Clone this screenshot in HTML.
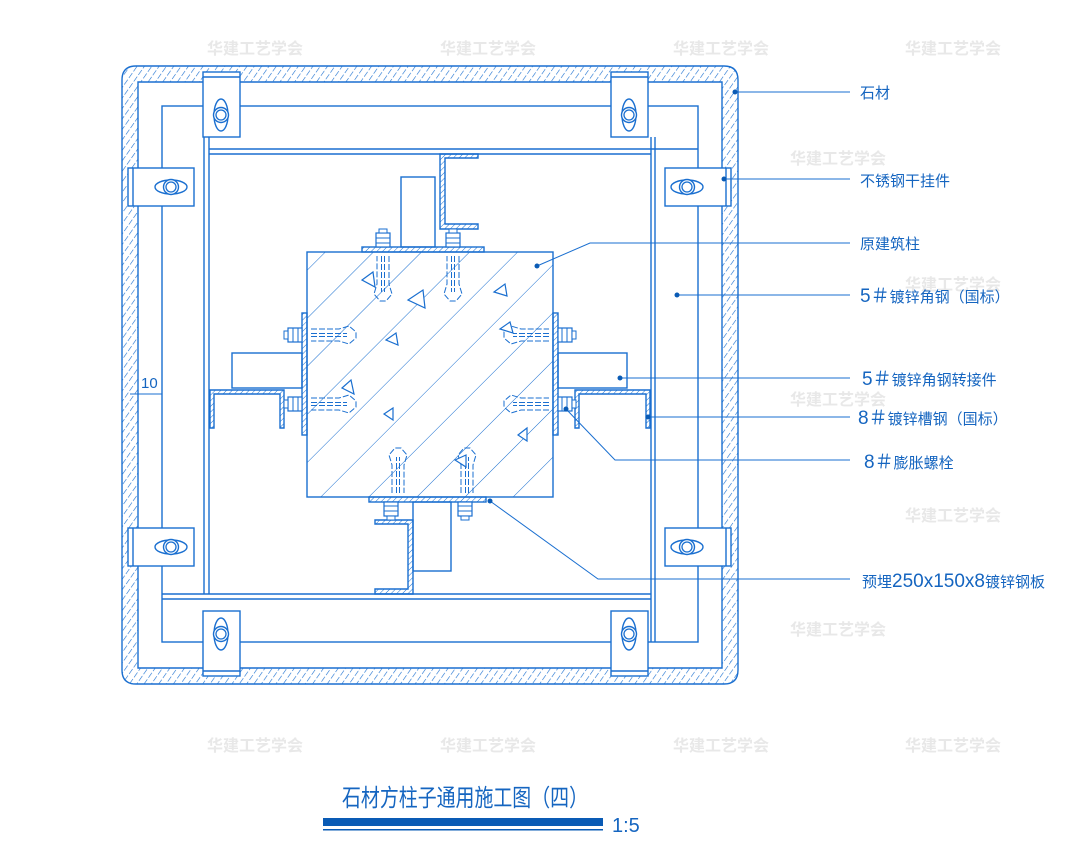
<!DOCTYPE html>
<html><head><meta charset="utf-8"><style>
html,body{margin:0;padding:0;background:#fff;}
svg{display:block;}
.t{font-family:"Liberation Sans","Noto Sans CJK SC",sans-serif;fill:#1565c0;}
.w{font-family:"Noto Sans CJK SC",sans-serif;font-weight:bold;fill:#e8e8e8;font-size:16px;}
</style></head><body>
<svg width="1081" height="866" viewBox="0 0 1081 866" xmlns="http://www.w3.org/2000/svg">
<defs>
<pattern id="st" width="6" height="8" patternUnits="userSpaceOnUse" patternTransform="rotate(35)">
<line x1="0" y1="0" x2="0" y2="8" stroke="#1a6fd0" stroke-width="1.2" stroke-dasharray="6 2"/></pattern>
<pattern id="sl" width="4" height="4" patternUnits="userSpaceOnUse" patternTransform="rotate(45)">
<line x1="0" y1="0" x2="0" y2="4" stroke="#1a6fd0" stroke-width="1"/></pattern>
<pattern id="co" width="34" height="34" patternUnits="userSpaceOnUse" patternTransform="rotate(45)">
<line x1="0" y1="0" x2="0" y2="34" stroke="#1a6fd0" stroke-width="1"/></pattern>
<g id="nutv"><rect x="-7" y="-7" width="14" height="14" fill="#fff" stroke="#1a6fd0" stroke-width="1.2"/><line x1="-7" y1="-2" x2="7" y2="-2" stroke="#1a6fd0"/><line x1="-7" y1="3" x2="7" y2="3" stroke="#1a6fd0"/><rect x="-4" y="-11" width="8" height="4" fill="#fff" stroke="#1a6fd0"/></g>
<g id="wing"><ellipse cx="0" cy="0" rx="16" ry="7" fill="#fff" stroke="#1a6fd0" stroke-width="1.4"/><circle r="7.5" fill="#fff" stroke="#1a6fd0" stroke-width="1.4"/><circle r="5" fill="none" stroke="#1a6fd0" stroke-width="1.3"/></g>
<g id="anch" fill="none" stroke="#1a6fd0" stroke-width="1" stroke-dasharray="6 2"><path d="M0,-6 L28,-6 L38,-9 L45,-3 L45,3 L38,9 L28,6 L0,6"/><path d="M0,-1.5 L36,-1.5 M0,1.5 L36,1.5"/></g>
</defs>

<g class="w">
<text x="207" y="54">华建工艺学会</text><text x="440" y="54">华建工艺学会</text><text x="673" y="54">华建工艺学会</text><text x="905" y="54">华建工艺学会</text>
<text x="790" y="164">华建工艺学会</text>
<text x="905" y="290">华建工艺学会</text>
<text x="790" y="405">华建工艺学会</text>
<text x="905" y="521">华建工艺学会</text>
<text x="790" y="635">华建工艺学会</text>
<text x="207" y="751">华建工艺学会</text><text x="440" y="751">华建工艺学会</text><text x="673" y="751">华建工艺学会</text><text x="905" y="751">华建工艺学会</text>
</g>

<g stroke="#1a6fd0" stroke-width="1.4" fill="none">
<path d="M136,66 H724 Q738,66 738,80 V670 Q738,684 724,684 H136 Q122,684 122,670 V80 Q122,66 136,66 Z M138,82 V668 H722 V82 Z" fill="url(#st)" fill-rule="evenodd"/>
<rect x="162" y="106" width="536" height="536" fill="#fff"/>
<line x1="204" y1="137" x2="204" y2="594"/><line x1="209" y1="137" x2="209" y2="594"/>
<line x1="651" y1="137" x2="651" y2="642"/><line x1="655" y1="137" x2="655" y2="642"/>
<line x1="209" y1="149" x2="698" y2="149"/><line x1="209" y1="154" x2="651" y2="154"/>
<line x1="162" y1="594" x2="651" y2="594"/><line x1="162" y1="599" x2="651" y2="599"/>
<rect x="203" y="72" width="37" height="65" fill="#fff"/><line x1="203" y1="77" x2="240" y2="77"/>
<rect x="611" y="72" width="37" height="65" fill="#fff"/><line x1="611" y1="77" x2="648" y2="77"/>
<rect x="203" y="611" width="37" height="65" fill="#fff"/><line x1="203" y1="671" x2="240" y2="671"/>
<rect x="611" y="611" width="37" height="65" fill="#fff"/><line x1="611" y1="671" x2="648" y2="671"/>
<rect x="128" y="168" width="66" height="38" fill="#fff"/><line x1="133" y1="168" x2="133" y2="206"/>
<rect x="128" y="528" width="66" height="38" fill="#fff"/><line x1="133" y1="528" x2="133" y2="566"/>
<rect x="665" y="168" width="66" height="38" fill="#fff"/><line x1="726" y1="168" x2="726" y2="206"/>
<rect x="665" y="528" width="66" height="38" fill="#fff"/><line x1="726" y1="528" x2="726" y2="566"/>
</g>
<use href="#wing" transform="translate(221,115) rotate(90)"/>
<use href="#wing" transform="translate(629,115) rotate(90)"/>
<use href="#wing" transform="translate(221,634) rotate(90)"/>
<use href="#wing" transform="translate(629,634) rotate(90)"/>
<use href="#wing" transform="translate(171,187)"/>
<use href="#wing" transform="translate(171,547)"/>
<use href="#wing" transform="translate(687,187)"/>
<use href="#wing" transform="translate(687,547)"/>

<g stroke="#1a6fd0" stroke-width="1.4">
<rect x="401" y="177" width="34" height="70" fill="#fff"/>
<rect x="413" y="502" width="38" height="69" fill="#fff"/>
<rect x="232" y="353" width="70" height="35" fill="#fff"/>
<rect x="558" y="353" width="69" height="35" fill="#fff"/>
<rect x="307" y="252" width="246" height="245" fill="url(#co)"/>
<rect x="362" y="247" width="122" height="5" fill="url(#sl)"/>
<rect x="369" y="497" width="117" height="5" fill="url(#sl)"/>
<rect x="302" y="313" width="5" height="122" fill="url(#sl)"/>
<rect x="553" y="313" width="5" height="122" fill="url(#sl)"/>
<path d="M440,154 H478 V158 H445 V224 H478 V229 H440 Z" fill="url(#sl)"/>
<path d="M413,520 H375 V524 H408 V589 H375 V594 H413 Z" fill="url(#sl)"/>
<path d="M210,390 H284 V428 H280 V394 H214 V428 H210 Z" fill="url(#sl)"/>
<path d="M575,390 H650 V428 H646 V394 H579 V428 H575 Z" fill="url(#sl)"/>
</g>
<use href="#nutv" transform="translate(383,240)"/>
<use href="#nutv" transform="translate(453,240)"/>
<use href="#nutv" transform="translate(391,509) rotate(180)"/>
<use href="#nutv" transform="translate(465,509) rotate(180)"/>
<use href="#nutv" transform="translate(295,335) rotate(-90)"/>
<use href="#nutv" transform="translate(295,404) rotate(-90)"/>
<use href="#nutv" transform="translate(565,335) rotate(90)"/>
<use href="#nutv" transform="translate(565,404) rotate(90)"/>
<use href="#anch" transform="translate(311,335)"/>
<use href="#anch" transform="translate(311,404)"/>
<use href="#anch" transform="translate(549,335) rotate(180)"/>
<use href="#anch" transform="translate(549,404) rotate(180)"/>
<use href="#anch" transform="translate(383,256) rotate(90)"/>
<use href="#anch" transform="translate(453,256) rotate(90)"/>
<use href="#anch" transform="translate(398,493) rotate(-90)"/>
<use href="#anch" transform="translate(467,493) rotate(-90)"/>
<g fill="#fff" stroke="#1a6fd0" stroke-width="1.2">
<path d="M362,280 L373,272 L375,287 Z"/><path d="M408,300 L423,290 L425,308 Z"/><path d="M342,388 L351,380 L354,394 Z"/>
<path d="M384,414 L393,408 L393,420 Z"/><path d="M494,292 L505,284 L507,296 Z"/><path d="M518,435 L527,428 L527,441 Z"/>
<path d="M500,329 L510,322 L513,333 Z"/><path d="M455,460 L466,455 L466,467 Z"/><path d="M386,340 L396,333 L398,345 Z"/>
</g>

<g stroke="#1a6fd0" stroke-width="1" fill="none">
<line x1="735" y1="92" x2="850" y2="92"/>
<line x1="724" y1="179" x2="850" y2="179"/>
<polyline points="537,266 590,243 850,243"/>
<line x1="677" y1="295" x2="850" y2="295"/>
<line x1="620" y1="378" x2="850" y2="378"/>
<line x1="648" y1="417" x2="850" y2="417"/>
<polyline points="566,409 615,460 850,460"/>
<polyline points="490,501 598,579 850,579"/>
<line x1="130" y1="394" x2="162" y2="394"/>
</g>
<g fill="#0a5bb5">
<circle cx="735" cy="92" r="2.5"/><circle cx="724" cy="179" r="2.5"/><circle cx="537" cy="266" r="2.5"/>
<circle cx="677" cy="295" r="2.5"/><circle cx="620" cy="378" r="2.5"/><circle cx="648" cy="417" r="2.5"/>
<circle cx="566" cy="409" r="2.5"/><circle cx="490" cy="501" r="2.5"/>
</g>
<text class="t" x="141" y="388" font-size="15">10</text>

<g class="t" font-size="15">
<text x="860" y="98">石材</text>
<text x="860" y="186">不锈钢干挂件</text>
<text x="860" y="249">原建筑柱</text>
<text x="860" y="302"><tspan font-size="19">5＃</tspan>镀锌角钢（国标）</text>
<text x="862" y="385"><tspan font-size="19">5＃</tspan>镀锌角钢转接件</text>
<text x="858" y="424"><tspan font-size="19">8＃</tspan>镀锌槽钢（国标）</text>
<text x="864" y="468"><tspan font-size="19">8＃</tspan>膨胀螺栓</text>
<text x="862" y="587">预埋<tspan font-size="19">250x150x8</tspan>镀锌钢板</text>
</g>

<text class="t" x="342" y="806" font-size="24" textLength="246" lengthAdjust="spacingAndGlyphs">石材方柱子通用施工图（四）</text>
<rect x="323" y="818" width="280" height="8" fill="#0a5bb5"/>
<rect x="323" y="829" width="280" height="1.5" fill="#0a5bb5"/>
<text class="t" x="612" y="832" font-size="20">1:5</text>
</svg>
</body></html>
